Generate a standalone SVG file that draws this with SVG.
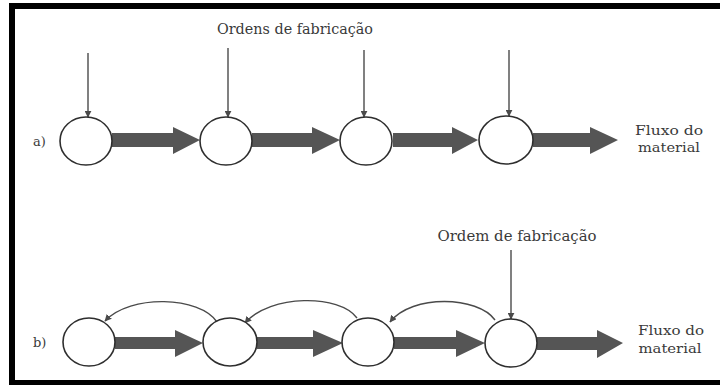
<svg xmlns="http://www.w3.org/2000/svg" width="720" height="385" viewBox="0 0 720 385">
  <style>
    .node { fill: #ffffff; stroke: #2e2e2e; stroke-width: 1.6; }
    .flow { fill: #555555; stroke: none; }
    .order { fill: none; stroke: #4a4a4a; stroke-width: 1.4; marker-end: url(#tip); }
    .txt { font-family: "DejaVu Serif", "Liberation Serif", serif; fill: #3a3a3a; }
    .lbl { font-size: 15px; text-anchor: middle; }
    .flux { font-size: 13.5px; text-anchor: middle; }
    .tag { font-size: 13px; }
  </style>
  <defs>
    <marker id="tip" viewBox="0 0 10 10" refX="9" refY="5" markerWidth="7" markerHeight="7" markerUnits="userSpaceOnUse" orient="auto">
      <path d="M0,0 L10,5 L0,10 Z" fill="#4a4a4a"/>
    </marker>
  </defs>

  <rect x="0" y="0" width="720" height="385" fill="#ffffff"/>

  <!-- frame -->
  <g id="frame" fill="#000000">
    <rect x="9" y="3" width="711" height="6"/>
    <rect x="9" y="3" width="6" height="382"/>
    <rect x="9" y="380" width="711" height="5"/>
  </g>

  <!-- row labels and captions -->
  <g id="labels" class="txt">
    <text class="tag" x="33" y="146">a)</text>
    <text class="tag" x="33" y="347">b)</text>
    <text class="lbl" x="295" y="34" textLength="156" lengthAdjust="spacingAndGlyphs">Ordens de fabricação</text>
    <text class="lbl" x="517" y="241" textLength="159" lengthAdjust="spacingAndGlyphs">Ordem de fabricação</text>
    <text class="flux" x="669" y="135" textLength="68" lengthAdjust="spacingAndGlyphs">Fluxo do</text>
    <text class="flux" x="669" y="152" textLength="62" lengthAdjust="spacingAndGlyphs">material</text>
    <text class="flux" x="671" y="335" textLength="66" lengthAdjust="spacingAndGlyphs">Fluxo do</text>
    <text class="flux" x="670" y="353" textLength="63" lengthAdjust="spacingAndGlyphs">material</text>
  </g>

  <!-- connectors -->
  <g id="connectors">
    <!-- material flow, row a -->
    <polygon class="flow" points="112,133 173,133 173,127 200,140 173,154 173,147 112,147"/>
    <polygon class="flow" points="252,133 312,133 312,127 340,140 312,154 312,147 252,147"/>
    <polygon class="flow" points="393,133 452,133 452,127 478,140 452,154 452,147 393,147"/>
    <polygon class="flow" points="533,133 590,133 590,127 618,140 590,154 590,147 533,147"/>
    <!-- material flow, row b -->
    <polygon class="flow" points="115,337 175,337 175,330 203,343 175,357 175,349 115,349"/>
    <polygon class="flow" points="257,337 313,337 313,330 343,343 313,357 313,349 257,349"/>
    <polygon class="flow" points="394,337 456,337 456,330 485,343 456,357 456,349 394,349"/>
    <polygon class="flow" points="537,337 597,337 597,330 623,343 597,358 597,350 537,350"/>
    <!-- production orders, row a -->
    <line class="order" x1="88" y1="53" x2="88" y2="117"/>
    <line class="order" x1="228" y1="48" x2="228" y2="117"/>
    <line class="order" x1="364" y1="50" x2="364" y2="117"/>
    <line class="order" x1="509" y1="50" x2="509" y2="116"/>
    <!-- production order and pull signals, row b -->
    <line class="order" x1="511" y1="250" x2="511" y2="319"/>
    <path class="order" d="M217,322 C200,296 130,294 105,321"/>
    <path class="order" d="M357,318 C340,294 270,294 245,323"/>
    <path class="order" d="M495,320 C478,296 412,294 390,322"/>
  </g>

  <!-- stations, row a -->
  <g id="a1"><ellipse class="node" cx="86" cy="141" rx="26" ry="24"/></g>
  <g id="a2"><ellipse class="node" cx="226" cy="141" rx="26" ry="24"/></g>
  <g id="a3"><ellipse class="node" cx="366" cy="141" rx="26" ry="24"/></g>
  <g id="a4"><ellipse class="node" cx="506" cy="140" rx="27" ry="24"/></g>

  <!-- stations, row b -->
  <g id="b1"><ellipse class="node" cx="89" cy="342" rx="26" ry="24"/></g>
  <g id="b2"><ellipse class="node" cx="230" cy="342" rx="27" ry="24"/></g>
  <g id="b3"><ellipse class="node" cx="368" cy="342" rx="26" ry="24"/></g>
  <g id="b4"><ellipse class="node" cx="511" cy="343" rx="26" ry="24"/></g>
</svg>
